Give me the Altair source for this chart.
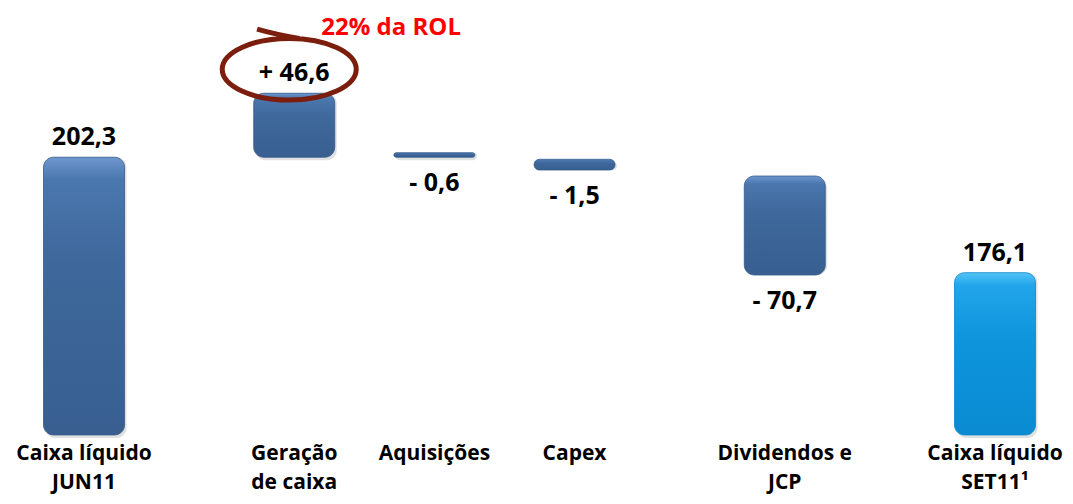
import altair as alt
import pandas as pd

# ---- data ----
categories = ["Caixa líquido\nJUN11", "Geração\nde caixa", "Aquisições", "Capex",
              "Dividendos e\nJCP", "Caixa líquido\nSET11¹"]
values = [202.3, 46.6, -0.6, -1.5, -70.7, 176.1]
kinds = ["total", "delta", "delta", "delta", "delta", "total"]
# bar extents as drawn in the picture (chart units)
bar_start = [0.0, 202.3, 202.3, 200.8, 188.6, 0.0]
bar_end = [202.3, 248.9, 205.6, 193.0, 116.5, 118.2]
annotation_text = "22% da ROL"


def fmt(v, kind):
    s = f"{abs(v):.1f}".replace(".", ",")
    if kind == "delta":
        return ("+ " if v > 0 else "- ") + s
    return s


df = pd.DataFrame({
    "category": categories,
    "value": values,
    "kind": kinds,
    "start": bar_start,
    "end": bar_end,
    "label": [fmt(v, k) for v, k in zip(values, kinds)],
})

# x slots: spacer slots give the uneven spacing of the original slide
slot_domain = [categories[0], "·1", "·2", categories[1], "·4", categories[2], "·6",
               categories[3], "·8", "·9", categories[4], "·11", "·12", categories[5]]

FONT = "Open Sans"

x_enc = alt.X("category:N", sort=None,
              scale=alt.Scale(type="point", domain=slot_domain, range=[76, 987], padding=0),
              axis=None)
y_scale = alt.Scale(domain=[-43, 311], nice=False, zero=False)

base = alt.Chart(df).encode(x=x_enc)

dark_grad = alt.Gradient(
    gradient="linear", x1=0, x2=0, y1=0, y2=1,
    stops=[alt.GradientStop(color="#6E97CE", offset=0),
           alt.GradientStop(color="#4A77AE", offset=0.08),
           alt.GradientStop(color="#3E679B", offset=0.4),
           alt.GradientStop(color="#385F90", offset=1)])
light_grad = alt.Gradient(
    gradient="linear", x1=0, x2=0, y1=0, y2=1,
    stops=[alt.GradientStop(color="#52C3F6", offset=0),
           alt.GradientStop(color="#22A5EA", offset=0.08),
           alt.GradientStop(color="#0E95DC", offset=0.4),
           alt.GradientStop(color="#0A8BD2", offset=1)])

shadow = base.mark_bar(width=81, cornerRadius=10, color="#000000", opacity=0.12,
                       xOffset=2, yOffset=3).encode(
    y=alt.Y("start:Q", scale=y_scale, axis=None), y2="end:Q")

bars_dark = base.transform_filter(alt.datum.category != categories[5]).mark_bar(
    width=81, cornerRadius=10, color=dark_grad, stroke="#33598A", strokeWidth=0.8
).encode(y=alt.Y("start:Q", scale=y_scale, axis=None), y2="end:Q")

bars_light = base.transform_filter(alt.datum.category == categories[5]).mark_bar(
    width=81, cornerRadius=10, color=light_grad, stroke="#0A86CC", strokeWidth=0.8
).encode(y=alt.Y("start:Q", scale=y_scale, axis=None), y2="end:Q")

with_ext = base.transform_calculate(
    top="max(datum.start, datum.end)", bottom="min(datum.start, datum.end)")

labels_above = with_ext.transform_filter(alt.datum.value > 0).mark_text(
    font=FONT, fontSize=25, fontWeight="bold", color="#000000",
    baseline="alphabetic", dy=-12
).encode(y=alt.Y("top:Q", scale=y_scale), text="label:N")

labels_below = with_ext.transform_filter(alt.datum.value < 0).mark_text(
    font=FONT, fontSize=25, fontWeight="bold", color="#000000",
    baseline="top", dy=14
).encode(y=alt.Y("bottom:Q", scale=y_scale), text="label:N")

cat_labels = base.mark_text(
    font=FONT, fontSize=21, fontWeight="bold", color="#000000",
    baseline="top", lineBreak="\n", lineHeight=29
).encode(y=alt.value(435), text="category:N")

ellipse_path = ("M -1 0 C -1 -0.254 -0.552 -0.46 0 -0.46 C 0.552 -0.46 1 -0.254 1 0 "
                "C 1 0.254 0.552 0.46 0 0.46 C -0.552 0.46 -1 0.254 -1 0 "
                "M 0.15 -0.46 Q -0.2 -0.52 -0.48 -0.6")

geracao = base.transform_filter(alt.datum.category == categories[1])

ellipse = geracao.mark_point(
    shape=ellipse_path, size=17956, filled=False, stroke="#7B1E0E",
    strokeWidth=5, opacity=1, xOffset=-5, yOffset=-24
).encode(y=alt.Y("end:Q", scale=y_scale))

note = geracao.transform_calculate(note=f"'{annotation_text}'").mark_text(
    font=FONT, fontSize=24, fontWeight="bold", color="#FF0000",
    align="left", baseline="alphabetic", dx=27, dy=-58
).encode(y=alt.Y("end:Q", scale=y_scale), text="note:N")

chart = alt.layer(
    shadow, bars_dark, bars_light, ellipse, labels_above, labels_below, cat_labels, note
).properties(
    width=1057, height=486,
    autosize=alt.AutoSizeParams(type="none"),
    padding=0,
    background="#FFFFFF",
).configure_view(stroke=None)

chart.save("out.html", embed_options={"renderer": "svg", "actions": False})
